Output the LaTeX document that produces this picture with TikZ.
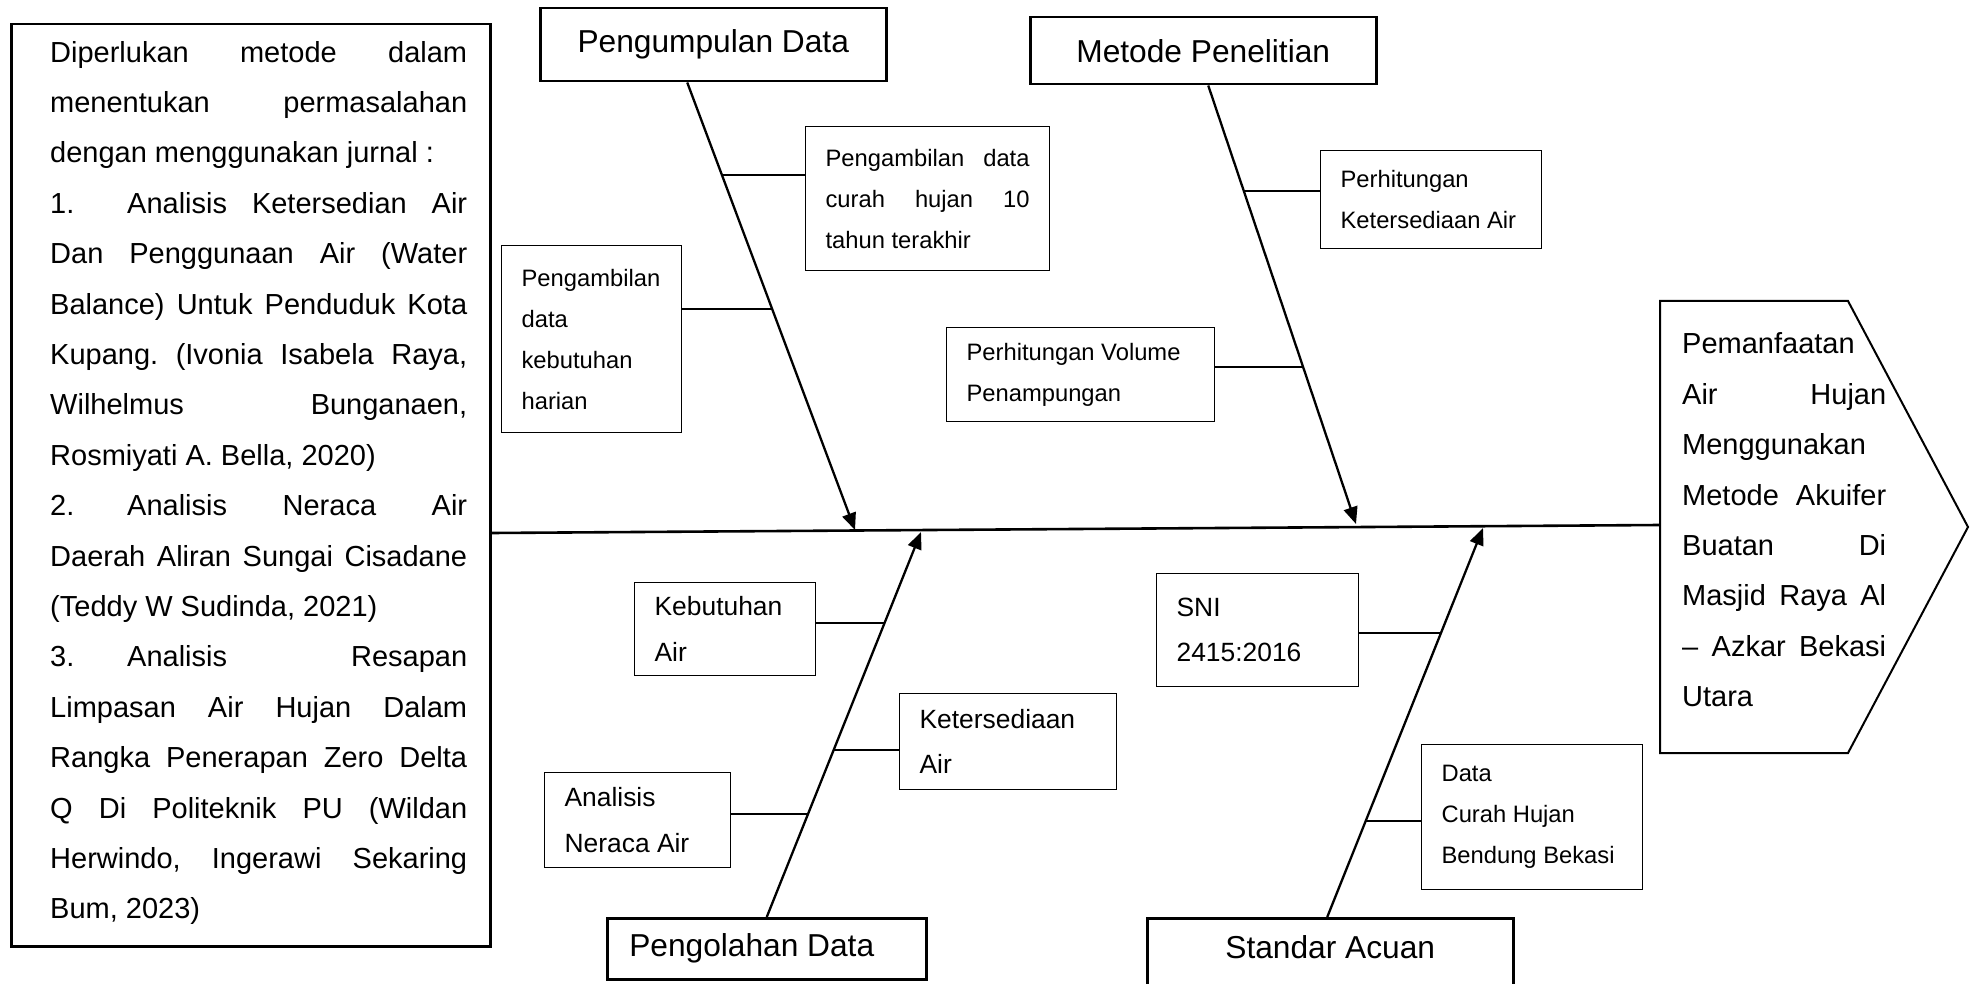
\documentclass[tikz,border=0pt]{standalone}
\usepackage{fontspec}
\setmainfont{Liberation Sans}
\usetikzlibrary{arrows.meta}
\usetikzlibrary{calc}

% justified line of a box (one row), width of the text column
\newcommand{\fillrow}[2][417pt]{\makebox[#1][s]{\frenchspacing\spaceskip=.278em plus 1em\relax #2}}
% numbered row with a fixed tab after the number
\newcommand{\numrow}[2]{\fillrow{\makebox[77pt][l]{#1}#2}}
% word sizes, 1px = 1pt
\newcommand{\sizeix}{\fontsize{23.75}{41}\selectfont}
\newcommand{\sizex}{\fontsize{26.4}{45.5}\selectfont}
\newcommand{\sizexi}{\fontsize{29}{50.4}\selectfont}
\newcommand{\sizexii}{\fontsize{31.7}{38}\selectfont}

\begin{document}
\begin{tikzpicture}[x=1pt, y=-1pt,
	causebox/.style={draw, line width=1.2pt, inner xsep=20pt, inner ysep=0pt, align=flush left, anchor=north west},
	headbox/.style={draw, line width=2.5pt, inner sep=0pt, anchor=north west, font=\sizexii},
	bone/.style={line width=2.3pt, -{Triangle[length=17pt,width=14pt]}},
	twig/.style={line width=1.2pt},
	spine/.style={line width=2.6pt}]
	% page: 1971 x 984 px
	\useasboundingbox (0,0) rectangle (1971,984);
	\fill[white] (0,0) rectangle (1971,984);
	\clip (0,0) rectangle (1971,984);

	% problem box (left)
	\node[draw, line width=2.5pt, inner sep=0pt, minimum width=479pt, minimum height=922pt, anchor=north west] (ref) at (10,23) {};
	\node[anchor=west, inner sep=0pt, text width=417pt, align=flush left, font=\sizexi] (reftxt) at (50,483) {%
		\fillrow{Diperlukan metode dalam}\\
		\fillrow{menentukan permasalahan}\\
		dengan menggunakan jurnal :\\
		\numrow{1.}{Analisis Ketersedian Air}\\
		\fillrow{Dan Penggunaan Air (Water}\\
		\fillrow{Balance) Untuk Penduduk Kota}\\
		\fillrow{Kupang. (Ivonia Isabela Raya,}\\
		\fillrow{Wilhelmus Bunganaen,}\\
		Rosmiyati A. Bella, 2020)\\
		\numrow{2.}{Analisis Neraca Air}\\
		\fillrow{Daerah Aliran Sungai Cisadane}\\
		(Teddy W Sudinda, 2021)\\
		\numrow{3.}{Analisis Resapan}\\
		\fillrow{Limpasan Air Hujan Dalam}\\
		\fillrow{Rangka Penerapan Zero Delta}\\
		\fillrow{Q Di Politeknik PU (Wildan}\\
		\fillrow{Herwindo, Ingerawi Sekaring}\\
		Bum, 2023)};

	% effect (head of the fish)
	\draw[line width=2pt] (1660,301) -- (1848,301) -- (1968,527) -- (1848,753) -- (1660,753) -- cycle;
	\node[anchor=west, inner sep=0pt, text width=204pt, align=flush left, font=\sizexi] (eff) at (1682,520) {%
		Pemanfaatan\\
		\fillrow[204pt]{Air Hujan}\\
		Menggunakan\\
		\fillrow[204pt]{Metode Akuifer}\\
		\fillrow[204pt]{Buatan Di}\\
		\fillrow[204pt]{Masjid Raya Al}\\
		\fillrow[204pt]{– Azkar Bekasi}\\
		Utara};

	% spine
	\coordinate (effin) at (1660,525);
	\draw[spine] (ref.east |- 0,533) -- (effin);

	% category heads
	\node[headbox, minimum width=346pt, minimum height=73pt] (pgd) at (539,7) {Pengumpulan Data};
	\node[headbox, minimum width=346pt, minimum height=67pt] (mp) at (1029,16) {Metode Penelitian};
	\node[headbox, inner xsep=22pt, text width=275pt, align=flush left, minimum height=61pt] (pgl) at (606,917) {Pengolahan Data};
	\node[headbox, minimum width=366pt, minimum height=100pt, text depth=43pt] (sa) at (1146,917) {Standar Acuan};

	% causes
	\node[causebox, font=\sizeix, text width=204pt, minimum height=144pt] (ch) at (805,126) {%
		\fillrow[204pt]{Pengambilan data}\\
		\fillrow[204pt]{curah hujan 10}\\
		tahun terakhir};
	\node[causebox, font=\sizeix, text width=140pt, minimum height=187pt] (kh) at (501,245) {Pengambilan\\data\\kebutuhan\\harian};
	\node[causebox, font=\sizeix, text width=181pt, minimum height=98pt] (pk) at (1320,150) {Perhitungan\\Ketersediaan Air};
	\node[causebox, font=\sizeix, text width=228pt, minimum height=94pt] (vol) at (946,327) {Perhitungan Volume\\Penampungan};
	\node[causebox, font=\sizex, text width=141pt, minimum height=93pt] (keb) at (634,582) {Kebutuhan\\Air};
	\node[causebox, font=\sizex, text width=177pt, minimum height=96pt] (ket) at (899,693) {Ketersediaan\\Air};
	\node[causebox, font=\sizex, text width=146pt, minimum height=95pt] (an) at (544,772) {Analisis\\Neraca Air};
	\node[causebox, font=\sizex, text width=162pt, minimum height=113pt] (sni) at (1156,573) {SNI\\2415:2016};
	\node[causebox, font=\sizeix, text width=181pt, minimum height=145pt] (dc) at (1421,744) {Data\\Curah Hujan\\Bendung Bekasi};

	% bones
	\coordinate (jA) at (855,530);
	\coordinate (jB) at (1356,524);
	\coordinate (jC) at (921,532);
	\coordinate (jD) at (1483,528);
	\draw[bone] ([xshift=-26pt]pgd.south) -- (jA);
	\draw[bone] ([xshift=5pt]mp.south) -- (jB);
	\draw[bone] (pgl.north) -- (jC);
	\draw[bone] ([xshift=-3pt]sa.north) -- (jD);

	% twigs (points on the bones)
	\coordinate (t1) at (721.7,175);
	\coordinate (t2) at (772,309);
	\coordinate (t3) at (1243.5,191);
	\coordinate (t4) at (1303,367);
	\coordinate (t5) at (884.4,623);
	\coordinate (t6) at (833.2,750);
	\coordinate (t7) at (807.5,814);
	\coordinate (t8) at (1440.6,633);
	\coordinate (t9) at (1364.7,821);
	\draw[twig] (t1) -- (t1 -| ch.west);
	\draw[twig] (kh.east |- t2) -- (t2);
	\draw[twig] (t3) -- (t3 -| pk.west);
	\draw[twig] (vol.east |- t4) -- (t4);
	\draw[twig] (keb.east |- t5) -- (t5);
	\draw[twig] (t6) -- (t6 -| ket.west);
	\draw[twig] (an.east |- t7) -- (t7);
	\draw[twig] (sni.east |- t8) -- (t8);
	\draw[twig] (t9) -- (t9 -| dc.west);
\end{tikzpicture}
\end{document}
